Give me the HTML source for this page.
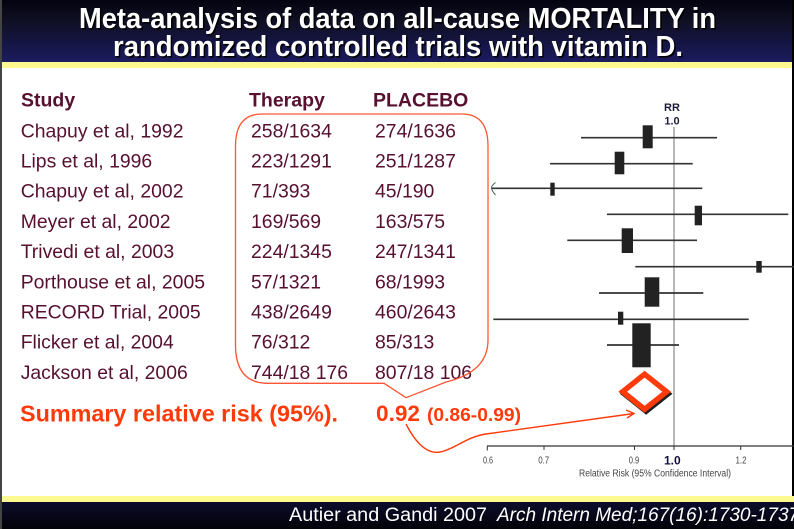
<!DOCTYPE html>
<html><head><meta charset="utf-8"><style>
html,body{margin:0;padding:0;background:#fff;}
svg{display:block;}
</style></head><body>
<svg width="794" height="529" viewBox="0 0 794 529" xmlns="http://www.w3.org/2000/svg">
<defs>
<linearGradient id="hg" x1="0" y1="0" x2="0" y2="1">
<stop offset="0" stop-color="#03030f"/>
<stop offset="0.35" stop-color="#101024"/>
<stop offset="0.7" stop-color="#151544"/>
<stop offset="1" stop-color="#1c1c60"/>
</linearGradient>
<linearGradient id="fg" x1="0" y1="0" x2="0" y2="1">
<stop offset="0" stop-color="#0d0d2c"/>
<stop offset="1" stop-color="#020208"/>
</linearGradient>
</defs>
<rect x="0" y="0" width="794" height="529" fill="#fff"/>
<!-- header -->
<rect x="0" y="0" width="794" height="62" fill="url(#hg)"/>
<rect x="0" y="62" width="794" height="6" fill="#fffa8f"/>
<g font-family="Liberation Sans, Arial, sans-serif" font-weight="bold" font-size="28.5" text-anchor="middle">
<text x="399" y="29.5" fill="#000" textLength="637" lengthAdjust="spacingAndGlyphs">Meta-analysis of data on all-cause MORTALITY in</text>
<text x="397.5" y="28" fill="#fff" textLength="637" lengthAdjust="spacingAndGlyphs">Meta-analysis of data on all-cause MORTALITY in</text>
<text x="399.5" y="57.5" fill="#000" textLength="570" lengthAdjust="spacingAndGlyphs">randomized controlled trials with vitamin D.</text>
<text x="398" y="56" fill="#fff" textLength="570" lengthAdjust="spacingAndGlyphs">randomized controlled trials with vitamin D.</text>
</g>
<!-- footer -->
<rect x="0" y="496" width="794" height="6" fill="#fffa8f"/>
<rect x="0" y="502" width="794" height="27" fill="url(#fg)"/>
<g font-family="Liberation Sans, Arial, sans-serif" font-size="19" fill="#fff">
<text x="289" y="521" textLength="198" lengthAdjust="spacingAndGlyphs">Autier and Gandi 2007</text>
<text x="497" y="521" font-style="italic">Arch Intern Med;167(16):1730-1737</text>
</g>
<!-- borders -->
<rect x="0" y="0" width="2" height="529" fill="#444"/>
<rect x="792" y="0" width="2" height="496" fill="#000"/>

<!-- table -->
<g font-family="Liberation Sans, Arial, sans-serif" fill="#57102f">
<g font-weight="bold" font-size="19.5">
<text x="21" y="106.5">Study</text>
<text x="249" y="106.5">Therapy</text>
<text x="373" y="106.5">PLACEBO</text>
</g>
<g font-size="19.4">
<text x="20.7" y="137.3">Chapuy et al, 1992</text><text x="251" y="137.3">258/1634</text><text x="375" y="137.3">274/1636</text>
<text x="20.7" y="167.5">Lips et al, 1996</text><text x="251" y="167.5">223/1291</text><text x="375" y="167.5">251/1287</text>
<text x="20.7" y="197.7">Chapuy et al, 2002</text><text x="251" y="197.7">71/393</text><text x="375" y="197.7">45/190</text>
<text x="20.7" y="227.9">Meyer et al, 2002</text><text x="251" y="227.9">169/569</text><text x="375" y="227.9">163/575</text>
<text x="20.7" y="258.1">Trivedi et al, 2003</text><text x="251" y="258.1">224/1345</text><text x="375" y="258.1">247/1341</text>
<text x="20.7" y="288.3">Porthouse et al, 2005</text><text x="251" y="288.3">57/1321</text><text x="375" y="288.3">68/1993</text>
<text x="20.7" y="318.5">RECORD Trial, 2005</text><text x="251" y="318.5">438/2649</text><text x="375" y="318.5">460/2643</text>
<text x="20.7" y="348.7">Flicker et al, 2004</text><text x="251" y="348.7">76/312</text><text x="375" y="348.7">85/313</text>
<text x="20.7" y="378.9">Jackson et al, 2006</text><text x="251" y="378.9">744/18 176</text><text x="375" y="378.9">807/18 106</text>
</g>
</g>
<g font-family="Liberation Sans, Arial, sans-serif" font-weight="bold" fill="#ff3a0a">
<text x="20" y="421.5" font-size="23.3" textLength="318" lengthAdjust="spacingAndGlyphs">Summary relative risk (95%).</text>
<text x="376" y="421" font-size="22.6">0.92</text>
<text x="427" y="421" font-size="18.7" textLength="94" lengthAdjust="spacingAndGlyphs">(0.86-0.99)</text>
</g>

<!-- callout -->
<path d="M 262 114 L 462 114 Q 488 114 488 146 L 488 340 Q 488 372 446 382 L 406 397.7 L 384 383.3 L 268 383.3 Q 235.5 383.3 235.5 345 L 235.5 146 Q 235.5 114 262 114 Z" fill="none" stroke="#ff5533" stroke-width="1.3"/>
<path d="M 406 424 C 412 436, 424 455, 440 452 C 455 449, 466 437, 486 434 L 634 413.5" fill="none" stroke="#ff3a0a" stroke-width="1.4"/>
<path d="M 626 410 L 634 413.5 L 627 418" fill="none" stroke="#ff3a0a" stroke-width="1.4"/>

<!-- forest plot -->
<g font-family="Liberation Sans, Arial, sans-serif" font-weight="bold" font-size="11" fill="#1c1c3c" text-anchor="middle">
<text x="672" y="111">RR</text>
<text x="672" y="124.5">1.0</text>
</g>
<line x1="674" y1="127" x2="674" y2="446" stroke="#888" stroke-width="1.2"/>
<g stroke="#333" stroke-width="1.7">
<line x1="581" y1="137.7" x2="717" y2="137.7"/>
<line x1="550" y1="163.7" x2="692.7" y2="163.7"/>
<line x1="491.7" y1="188.3" x2="702.3" y2="188.3"/>
<line x1="607" y1="214.3" x2="788.3" y2="214.3"/>
<line x1="567.3" y1="240.3" x2="697" y2="240.3"/>
<line x1="635.3" y1="266.7" x2="794" y2="266.7"/>
<line x1="599" y1="293" x2="703.3" y2="293"/>
<line x1="493.3" y1="319.3" x2="748.7" y2="319.3"/>
<line x1="607" y1="345" x2="679" y2="345"/>
</g>
<path d="M495.5,182.5 Q491,186 491.5,188.3 Q492,191 495.5,195" fill="none" stroke="#555" stroke-width="1"/>
<g fill="#222">
<rect x="642.7" y="125.3" width="10" height="23"/>
<rect x="614.7" y="151.7" width="9.6" height="22.6"/>
<rect x="550.3" y="182.7" width="4.4" height="13"/>
<rect x="694.7" y="205.7" width="7.3" height="19.6"/>
<rect x="621.7" y="228.3" width="11.3" height="24.7"/>
<rect x="756.3" y="261" width="5.4" height="11.7"/>
<rect x="644.7" y="277.3" width="14.6" height="29.4"/>
<rect x="618" y="311.7" width="5.3" height="13"/>
<rect x="632.3" y="323.3" width="18.4" height="44"/>
</g>
<!-- diamond -->
<polygon points="619.8,393.7 646.1,372.7 672.5,393.7 646.1,414.7" fill="#222"/>
<polygon points="618.3,391.7 644.6,370.7 671,391.7 644.6,412.7" fill="#ff3a0a"/>
<polygon points="627,391.7 644.6,377.6 662.3,391.7 644.6,405.8" fill="#fff"/>

<!-- axis -->
<line x1="487" y1="446" x2="794" y2="446" stroke="#333" stroke-width="1.2"/>
<g stroke="#333" stroke-width="1">
<line x1="487.3" y1="446" x2="487.3" y2="450.5"/>
<line x1="544" y1="446" x2="544" y2="450"/>
<line x1="634.5" y1="446" x2="634.5" y2="450"/>
<line x1="674" y1="446" x2="674" y2="450"/>
<line x1="740.7" y1="446" x2="740.7" y2="450"/>
</g>
<g font-family="Liberation Sans, Arial, sans-serif" font-size="10" fill="#444" text-anchor="middle">
<text x="488" y="463.5" textLength="10" lengthAdjust="spacingAndGlyphs">0.6</text>
<text x="543.7" y="463.5" textLength="11" lengthAdjust="spacingAndGlyphs">0.7</text>
<text x="634" y="463.5" textLength="10.5" lengthAdjust="spacingAndGlyphs">0.9</text>
<text x="741" y="463.5" textLength="11" lengthAdjust="spacingAndGlyphs">1.2</text>
<text x="655" y="476.5" textLength="152" lengthAdjust="spacingAndGlyphs">Relative Risk (95% Confidence Interval)</text>
</g>
<text x="672.3" y="464.5" font-family="Liberation Sans, Arial, sans-serif" font-weight="bold" font-size="12" fill="#11113a" text-anchor="middle">1.0</text>
</svg>
</body></html>
